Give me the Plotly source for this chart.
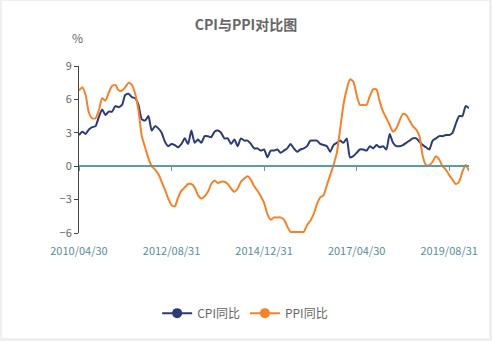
import pandas as pd
import plotly.graph_objects as go

# Month-end observation dates, 2010/04 .. 2020/02
dates = [d.strftime("%Y/%m/%d") for d in pd.date_range("2010-04-30", "2020-02-29", freq="ME")]

# CPI year-on-year (%)
cpi_yoy = [
    2.8, 3.1, 2.9, 3.3, 3.5, 3.6, 4.4, 5.1, 4.6,
    4.9, 4.9, 5.4, 5.3, 5.5, 6.4, 6.5, 6.2, 6.1, 5.5, 4.2, 4.1,
    4.5, 3.2, 3.6, 3.4, 3.0, 2.2, 1.8, 2.0, 1.9, 1.7, 2.0, 2.5,
    2.0, 3.2, 2.1, 2.4, 2.1, 2.7, 2.7, 2.6, 3.1, 3.2, 3.0, 2.5,
    2.5, 2.0, 2.4, 1.8, 2.5, 2.3, 2.3, 2.0, 1.6, 1.6, 1.4, 1.5,
    0.8, 1.4, 1.4, 1.5, 1.2, 1.4, 1.6, 2.0, 1.6, 1.3, 1.5, 1.6,
    1.8, 2.3, 2.3, 2.3, 2.0, 1.9, 1.8, 1.3, 1.9, 2.1, 2.3, 2.1,
    2.5, 0.8, 0.9, 1.2, 1.5, 1.5, 1.4, 1.8, 1.6, 1.9, 1.7, 1.8,
    1.5, 2.9, 2.1, 1.8, 1.8, 1.9, 2.1, 2.3, 2.5, 2.5, 2.2, 1.9,
    1.7, 1.5, 2.3, 2.5, 2.7, 2.7, 2.8, 2.8, 3.0, 3.8, 4.5, 4.5,
    5.4, 5.2,
]

# PPI year-on-year (%)
ppi_yoy = [
    6.8, 7.1, 6.4, 4.8, 4.3, 4.3, 5.0, 6.1, 5.9,
    6.6, 7.2, 7.3, 6.8, 6.8, 7.1, 7.5, 7.3, 6.5, 5.0, 2.7, 1.7,
    0.7, 0.0, -0.3, -0.7, -1.4, -2.1, -2.9, -3.5, -3.6, -2.8, -2.2, -1.9,
    -1.6, -1.6, -1.9, -2.6, -2.9, -2.7, -2.3, -1.6, -1.3, -1.5, -1.4, -1.4,
    -1.6, -2.0, -2.3, -2.0, -1.4, -1.1, -0.9, -1.2, -1.8, -2.2, -2.7, -3.3,
    -4.3, -4.8, -4.6, -4.6, -4.6, -4.8, -5.4, -5.9, -5.9, -5.9, -5.9, -5.9,
    -5.3, -4.9, -4.3, -3.4, -2.8, -2.6, -1.7, -0.8, 0.1, 1.2, 3.3, 5.5,
    6.9, 7.8, 7.6, 6.4, 5.5, 5.5, 5.5, 6.3, 6.9, 6.9, 5.8, 4.9,
    4.3, 3.7, 3.1, 3.4, 4.1, 4.7, 4.6, 4.1, 3.6, 3.3, 2.7, 0.9,
    0.1, 0.1, 0.4, 0.9, 0.6, 0.0, -0.3, -0.8, -1.2, -1.6, -1.4, -0.5,
    0.1, -0.4,
]

series_names = ["CPI同比", "PPI同比"]
colors = ["#2b3a78", "#f5822a"]
tick_dates = dates[::28]
y_ticks = [-6, -3, 0, 3, 6, 9]

FONT = "Noto Sans CJK SC, Open Sans, sans-serif"

fig = go.Figure()
for name, vals, col in zip(series_names, [cpi_yoy, ppi_yoy], colors):
    fig.add_trace(go.Scatter(
        x=dates, y=vals, mode="lines", name=name, showlegend=False,
        line=dict(color=col, width=2, shape="spline", smoothing=0.6),
        hoverinfo="x+y+name",
    ))
# legend entries (line with a circle), placed on the zero-line axis
for name, col in zip(series_names, colors):
    fig.add_trace(go.Scatter(
        x=[None], y=[None], mode="lines+markers", name=name,
        line=dict(color=col, width=2), marker=dict(color=col, size=10),
        xaxis="x2",
    ))

fig.update_layout(
    width=492, height=341,
    margin=dict(l=79, r=23, t=66, b=108),
    paper_bgcolor="#efefef",
    plot_bgcolor="rgba(0,0,0,0)",
    font=dict(family=FONT, color="#666666", size=11),
    title=dict(text="<b>CPI与PPI对比图</b>", x=0.5, xref="container", xanchor="center",
               y=0.925, yref="container", yanchor="middle",
               font=dict(size=14, color="#666666", family=FONT)),
    xaxis=dict(
        type="category", range=[0, len(dates) - 1],
        tickmode="array", tickvals=tick_dates, ticktext=tick_dates,
        showline=False, showgrid=False, zeroline=False,
        ticks="outside", ticklen=8, tickcolor="rgba(0,0,0,0)",
        tickfont=dict(color="#5b8c99", size=11),
    ),
    xaxis2=dict(
        type="category", overlaying="x", matches="x", anchor="free", position=0.4,
        tickmode="array", tickvals=tick_dates, showticklabels=False,
        showline=True, linecolor="#5c9e9c", linewidth=1.5,
        ticks="outside", ticklen=4, tickcolor="#5c9e9c", showgrid=False,
    ),
    yaxis=dict(
        range=[-6, 9], tickvals=y_ticks, showgrid=False, zeroline=False,
        showline=True, linecolor="#444444", linewidth=1,
        ticks="outside", ticklen=4, tickcolor="#444444",
        tickfont=dict(color="#666666", size=11),
    ),
    legend=dict(orientation="h", x=0.426, xanchor="center", y=-0.48, yanchor="middle",
                font=dict(size=12, color="#666666"), itemwidth=30,
                bgcolor="rgba(0,0,0,0)"),
    shapes=[dict(type="rect", xref="paper", yref="paper",
                 x0=-0.1974, x1=1.0513, y0=-0.629, y1=1.389,
                 fillcolor="white", line=dict(width=0), layer="below")],
    annotations=[dict(text="%", xref="paper", yref="paper", x=-0.003, y=1.17,
                      xanchor="center", yanchor="middle",
                      showarrow=False, font=dict(size=12, color="#666666"))],
)

fig.write_html("out.html")
